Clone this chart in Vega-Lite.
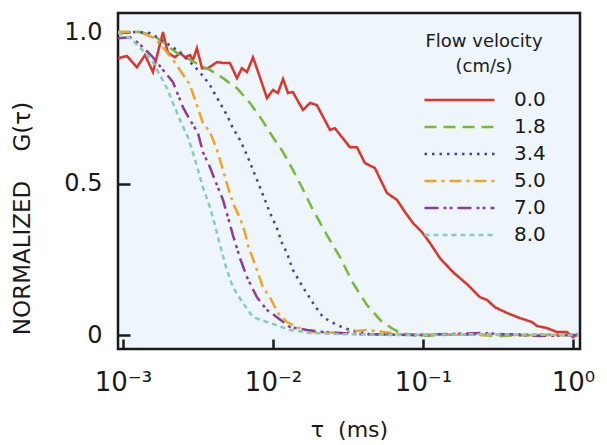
{
  "$schema": "https://vega.github.io/schema/vega-lite/v6.json",
  "autosize": "none",
  "width": 462,
  "height": 336,
  "padding": {"left": 118, "top": 13, "right": 27, "bottom": 96},
  "background": "white",
  "config": {
    "view": {"fill": "#eef5fb", "stroke": "#1a1a1a", "strokeWidth": 2.5},
    "font": "DejaVu Sans"
  },
  "datasets": {
    "curves": [
      {"v":"0.0","tau":0.000927,"G":0.914},{"v":"0.0","tau":0.001064,"G":0.921},{"v":"0.0","tau":0.001239,"G":0.884},{"v":"0.0","tau":0.001403,"G":0.924},{"v":"0.0","tau":0.001585,"G":0.868},{"v":"0.0","tau":0.001849,"G":1.0},{"v":"0.0","tau":0.001995,"G":0.931},{"v":"0.0","tau":0.002223,"G":0.917},{"v":"0.0","tau":0.002399,"G":0.931},{"v":"0.0","tau":0.002588,"G":0.917},{"v":"0.0","tau":0.002799,"G":0.924},{"v":"0.0","tau":0.002931,"G":0.908},{"v":"0.0","tau":0.003112,"G":0.947},{"v":"0.0","tau":0.003365,"G":0.881},{"v":"0.0","tau":0.00369,"G":0.881},{"v":"0.0","tau":0.004236,"G":0.901},{"v":"0.0","tau":0.004645,"G":0.898},{"v":"0.0","tau":0.005164,"G":0.898},{"v":"0.0","tau":0.005754,"G":0.848},{"v":"0.0","tau":0.006209,"G":0.881},{"v":"0.0","tau":0.006714,"G":0.868},{"v":"0.0","tau":0.007362,"G":0.917},{"v":"0.0","tau":0.008185,"G":0.851},{"v":"0.0","tau":0.00912,"G":0.782},{"v":"0.0","tau":0.01,"G":0.809},{"v":"0.0","tau":0.01079,"G":0.799},{"v":"0.0","tau":0.01167,"G":0.845},{"v":"0.0","tau":0.01259,"G":0.799},{"v":"0.0","tau":0.01358,"G":0.802},{"v":"0.0","tau":0.01585,"G":0.743},{"v":"0.0","tau":0.01766,"G":0.766},{"v":"0.0","tau":0.01963,"G":0.759},{"v":"0.0","tau":0.02399,"G":0.677},{"v":"0.0","tau":0.02588,"G":0.683},{"v":"0.0","tau":0.03258,"G":0.62},{"v":"0.0","tau":0.03631,"G":0.62},{"v":"0.0","tau":0.04102,"G":0.568},{"v":"0.0","tau":0.04786,"G":0.551},{"v":"0.0","tau":0.05754,"G":0.469},{"v":"0.0","tau":0.06714,"G":0.446},{"v":"0.0","tau":0.07586,"G":0.406},{"v":"0.0","tau":0.0857,"G":0.37},{"v":"0.0","tau":0.0985,"G":0.34},{"v":"0.0","tau":0.1114,"G":0.304},{"v":"0.0","tau":0.1297,"G":0.254},{"v":"0.0","tau":0.1585,"G":0.208},{"v":"0.0","tau":0.1766,"G":0.188},{"v":"0.0","tau":0.1995,"G":0.165},{"v":"0.0","tau":0.2399,"G":0.125},{"v":"0.0","tau":0.2673,"G":0.116},{"v":"0.0","tau":0.302,"G":0.092},{"v":"0.0","tau":0.3631,"G":0.073},{"v":"0.0","tau":0.4436,"G":0.056},{"v":"0.0","tau":0.5333,"G":0.043},{"v":"0.0","tau":0.5754,"G":0.03},{"v":"0.0","tau":0.6714,"G":0.023},{"v":"0.0","tau":0.7816,"G":0.01},{"v":"0.0","tau":0.912,"G":0.01},{"v":"0.0","tau":1.0,"G":-0.007},{"v":"0.0","tau":1.079,"G":0.003},

      {"v":"1.8","tau":0.000927,"G":1.0},{"v":"1.8","tau":0.001298,"G":1.0},{"v":"1.8","tau":0.001585,"G":0.99},{"v":"1.8","tau":0.001849,"G":0.967},{"v":"1.8","tau":0.002291,"G":0.931},{"v":"1.8","tau":0.002673,"G":0.914},{"v":"1.8","tau":0.003258,"G":0.891},{"v":"1.8","tau":0.003802,"G":0.875},{"v":"1.8","tau":0.004645,"G":0.848},{"v":"1.8","tau":0.005754,"G":0.815},{"v":"1.8","tau":0.007031,"G":0.766},{"v":"1.8","tau":0.00857,"G":0.706},{"v":"1.8","tau":0.01,"G":0.653},{"v":"1.8","tau":0.01167,"G":0.604},{"v":"1.8","tau":0.01358,"G":0.545},{"v":"1.8","tau":0.0156,"G":0.488},{"v":"1.8","tau":0.01849,"G":0.413},{"v":"1.8","tau":0.02291,"G":0.33},{"v":"1.8","tau":0.02799,"G":0.257},{"v":"1.8","tau":0.03412,"G":0.172},{"v":"1.8","tau":0.04236,"G":0.099},{"v":"1.8","tau":0.05408,"G":0.04},{"v":"1.8","tau":0.07031,"G":0.007},{"v":"1.8","tau":0.0955,"G":-0.003},{"v":"1.8","tau":0.1766,"G":0.003},{"v":"1.8","tau":0.326,"G":-0.003},{"v":"1.8","tau":0.6026,"G":0.0},{"v":"1.8","tau":1.079,"G":0.0},

      {"v":"3.4","tau":0.000927,"G":0.997},{"v":"3.4","tau":0.001202,"G":1.0},{"v":"3.4","tau":0.001514,"G":0.997},{"v":"3.4","tau":0.001905,"G":0.967},{"v":"3.4","tau":0.002399,"G":0.934},{"v":"3.4","tau":0.002799,"G":0.901},{"v":"3.4","tau":0.003258,"G":0.868},{"v":"3.4","tau":0.003802,"G":0.825},{"v":"3.4","tau":0.004436,"G":0.766},{"v":"3.4","tau":0.004932,"G":0.726},{"v":"3.4","tau":0.005408,"G":0.683},{"v":"3.4","tau":0.006026,"G":0.644},{"v":"3.4","tau":0.006714,"G":0.594},{"v":"3.4","tau":0.007362,"G":0.545},{"v":"3.4","tau":0.008185,"G":0.488},{"v":"3.4","tau":0.00885,"G":0.446},{"v":"3.4","tau":0.00955,"G":0.403},{"v":"3.4","tau":0.01064,"G":0.353},{"v":"3.4","tau":0.01148,"G":0.304},{"v":"3.4","tau":0.0124,"G":0.271},{"v":"3.4","tau":0.01358,"G":0.215},{"v":"3.4","tau":0.01585,"G":0.158},{"v":"3.4","tau":0.01849,"G":0.106},{"v":"3.4","tau":0.02154,"G":0.059},{"v":"3.4","tau":0.02673,"G":0.033},{"v":"3.4","tau":0.03258,"G":0.017},{"v":"3.4","tau":0.04436,"G":0.003},{"v":"3.4","tau":0.0955,"G":0.0},{"v":"3.4","tau":0.2399,"G":0.003},{"v":"3.4","tau":1.079,"G":0.0},

      {"v":"5.0","tau":0.000927,"G":1.0},{"v":"5.0","tau":0.001298,"G":1.0},{"v":"5.0","tau":0.001633,"G":0.98},{"v":"5.0","tau":0.001849,"G":0.95},{"v":"5.0","tau":0.002154,"G":0.908},{"v":"5.0","tau":0.002399,"G":0.875},{"v":"5.0","tau":0.002799,"G":0.825},{"v":"5.0","tau":0.003162,"G":0.749},{"v":"5.0","tau":0.003412,"G":0.7},{"v":"5.0","tau":0.003802,"G":0.67},{"v":"5.0","tau":0.004236,"G":0.611},{"v":"5.0","tau":0.004645,"G":0.545},{"v":"5.0","tau":0.005012,"G":0.488},{"v":"5.0","tau":0.005408,"G":0.436},{"v":"5.0","tau":0.006026,"G":0.386},{"v":"5.0","tau":0.006501,"G":0.34},{"v":"5.0","tau":0.006808,"G":0.297},{"v":"5.0","tau":0.007816,"G":0.215},{"v":"5.0","tau":0.00857,"G":0.158},{"v":"5.0","tau":0.00955,"G":0.125},{"v":"5.0","tau":0.01079,"G":0.073},{"v":"5.0","tau":0.0124,"G":0.043},{"v":"5.0","tau":0.01445,"G":0.026},{"v":"5.0","tau":0.01849,"G":0.01},{"v":"5.0","tau":0.02799,"G":0.007},{"v":"5.0","tau":0.04236,"G":0.017},{"v":"5.0","tau":0.07031,"G":0.003},{"v":"5.0","tau":0.326,"G":0.0},{"v":"5.0","tau":1.079,"G":0.0},

      {"v":"7.0","tau":0.000927,"G":0.98},{"v":"7.0","tau":0.001114,"G":0.983},{"v":"7.0","tau":0.001239,"G":0.967},{"v":"7.0","tau":0.001358,"G":0.95},{"v":"7.0","tau":0.001585,"G":0.917},{"v":"7.0","tau":0.001849,"G":0.875},{"v":"7.0","tau":0.002154,"G":0.835},{"v":"7.0","tau":0.002512,"G":0.752},{"v":"7.0","tau":0.002799,"G":0.71},{"v":"7.0","tau":0.003162,"G":0.667},{"v":"7.0","tau":0.003412,"G":0.604},{"v":"7.0","tau":0.003802,"G":0.554},{"v":"7.0","tau":0.004236,"G":0.495},{"v":"7.0","tau":0.004645,"G":0.446},{"v":"7.0","tau":0.005012,"G":0.389},{"v":"7.0","tau":0.005408,"G":0.33},{"v":"7.0","tau":0.006026,"G":0.254},{"v":"7.0","tau":0.006714,"G":0.191},{"v":"7.0","tau":0.007816,"G":0.125},{"v":"7.0","tau":0.00912,"G":0.083},{"v":"7.0","tau":0.01064,"G":0.059},{"v":"7.0","tau":0.01298,"G":0.026},{"v":"7.0","tau":0.01687,"G":0.017},{"v":"7.0","tau":0.02154,"G":0.01},{"v":"7.0","tau":0.03802,"G":0.003},{"v":"7.0","tau":0.0955,"G":0.0},{"v":"7.0","tau":0.2399,"G":0.007},{"v":"7.0","tau":0.6026,"G":-0.003},{"v":"7.0","tau":1.079,"G":0.0},

      {"v":"8.0","tau":0.000927,"G":0.997},{"v":"8.0","tau":0.001114,"G":0.98},{"v":"8.0","tau":0.001298,"G":0.95},{"v":"8.0","tau":0.001445,"G":0.924},{"v":"8.0","tau":0.001585,"G":0.901},{"v":"8.0","tau":0.001766,"G":0.858},{"v":"8.0","tau":0.001963,"G":0.815},{"v":"8.0","tau":0.002154,"G":0.766},{"v":"8.0","tau":0.002399,"G":0.71},{"v":"8.0","tau":0.00271,"G":0.653},{"v":"8.0","tau":0.002931,"G":0.601},{"v":"8.0","tau":0.003162,"G":0.545},{"v":"8.0","tau":0.003412,"G":0.488},{"v":"8.0","tau":0.003802,"G":0.422},{"v":"8.0","tau":0.004102,"G":0.363},{"v":"8.0","tau":0.004436,"G":0.297},{"v":"8.0","tau":0.004932,"G":0.215},{"v":"8.0","tau":0.005408,"G":0.158},{"v":"8.0","tau":0.00631,"G":0.106},{"v":"8.0","tau":0.007362,"G":0.059},{"v":"8.0","tau":0.00955,"G":0.04},{"v":"8.0","tau":0.01298,"G":0.017},{"v":"8.0","tau":0.01766,"G":0.007},{"v":"8.0","tau":0.02799,"G":0.003},{"v":"8.0","tau":0.07031,"G":0.0},{"v":"8.0","tau":0.2399,"G":0.003},{"v":"8.0","tau":1.079,"G":0.0}
    ]
  },
  "data": {"name": "curves"},
  "mark": {"type": "line", "strokeWidth": 2.5, "clip": true, "strokeCap": "butt"},
  "encoding": {
    "x": {
      "field": "tau", "type": "quantitative",
      "scale": {"type": "log", "domain": [0.000927, 1.114], "nice": false},
      "axis": {
        "values": [0.001, 0.01, 0.1, 1],
        "labelExpr": "datum.value > 0.5 ? '10⁰' : datum.value > 0.05 ? '10⁻¹' : datum.value > 0.005 ? '10⁻²' : '10⁻³'",
        "grid": false, "domain": false,
        "tickSize": -10, "tickWidth": 2.5, "tickColor": "#1a1a1a",
        "labelFontSize": 26, "labelColor": "#1a1a1a", "labelPadding": 30,
        "title": "τ\u00a0\u00a0(ms)", "titleFontSize": 22, "titleFontWeight": "normal", "titleColor": "#1a1a1a",
        "titleX": 231, "titleY": 70, "titleBaseline": "top"
      }
    },
    "y": {
      "field": "G", "type": "quantitative",
      "scale": {"domain": [-0.046, 1.063], "nice": false, "zero": false},
      "axis": {
        "values": [0, 0.5, 1],
        "labelExpr": "datum.value == 0 ? '0' : datum.value == 0.5 ? '0.5' : '1.0'",
        "grid": false, "domain": false,
        "tickSize": -12, "tickWidth": 2.5, "tickColor": "#1a1a1a",
        "labelFontSize": 24, "labelColor": "#1a1a1a", "labelPadding": 28,
        "title": "NORMALIZED\u00a0\u00a0\u00a0\u00a0G(τ)", "titleFontSize": 23, "titleFontWeight": "normal", "titleColor": "#1a1a1a",
        "titleX": -96, "titleY": 205, "titleBaseline": "middle", "titleAlign": "center"
      }
    },
    "color": {
      "field": "v", "type": "nominal",
      "scale": {"domain": ["0.0", "1.8", "3.4", "5.0", "7.0", "8.0"], "range": ["#e2322a", "#7ab83a", "#4b40a8", "#f2a324", "#8c3c9e", "#86ccb8"]},
      "legend": {
        "orient": "none", "legendX": 305, "legendY": 20,
        "title": ["Flow velocity", "(cm/s)"], "titleFontSize": 18, "titleFontWeight": "normal", "titleColor": "#1a1a1a",
        "titleAnchor": "middle", "titleAlign": "center", "titlePadding": 14, "titleLineHeight": 25,
        "symbolType": "stroke", "symbolSize": 4900, "symbolStrokeWidth": 2.5,
        "labelFontSize": 20, "labelColor": "#1a1a1a", "labelOffset": 18,
        "clipHeight": 20, "rowPadding": 7
      }
    },
    "strokeDash": {
      "field": "v", "type": "nominal",
      "scale": {"domain": ["0.0", "1.8", "3.4", "5.0", "7.0", "8.0"], "range": [[1, 0], [12, 7], [2.5, 5], [12, 5, 3, 5], [14, 5, 3, 3, 3, 5], [5, 4]]}
    }
  }
}
